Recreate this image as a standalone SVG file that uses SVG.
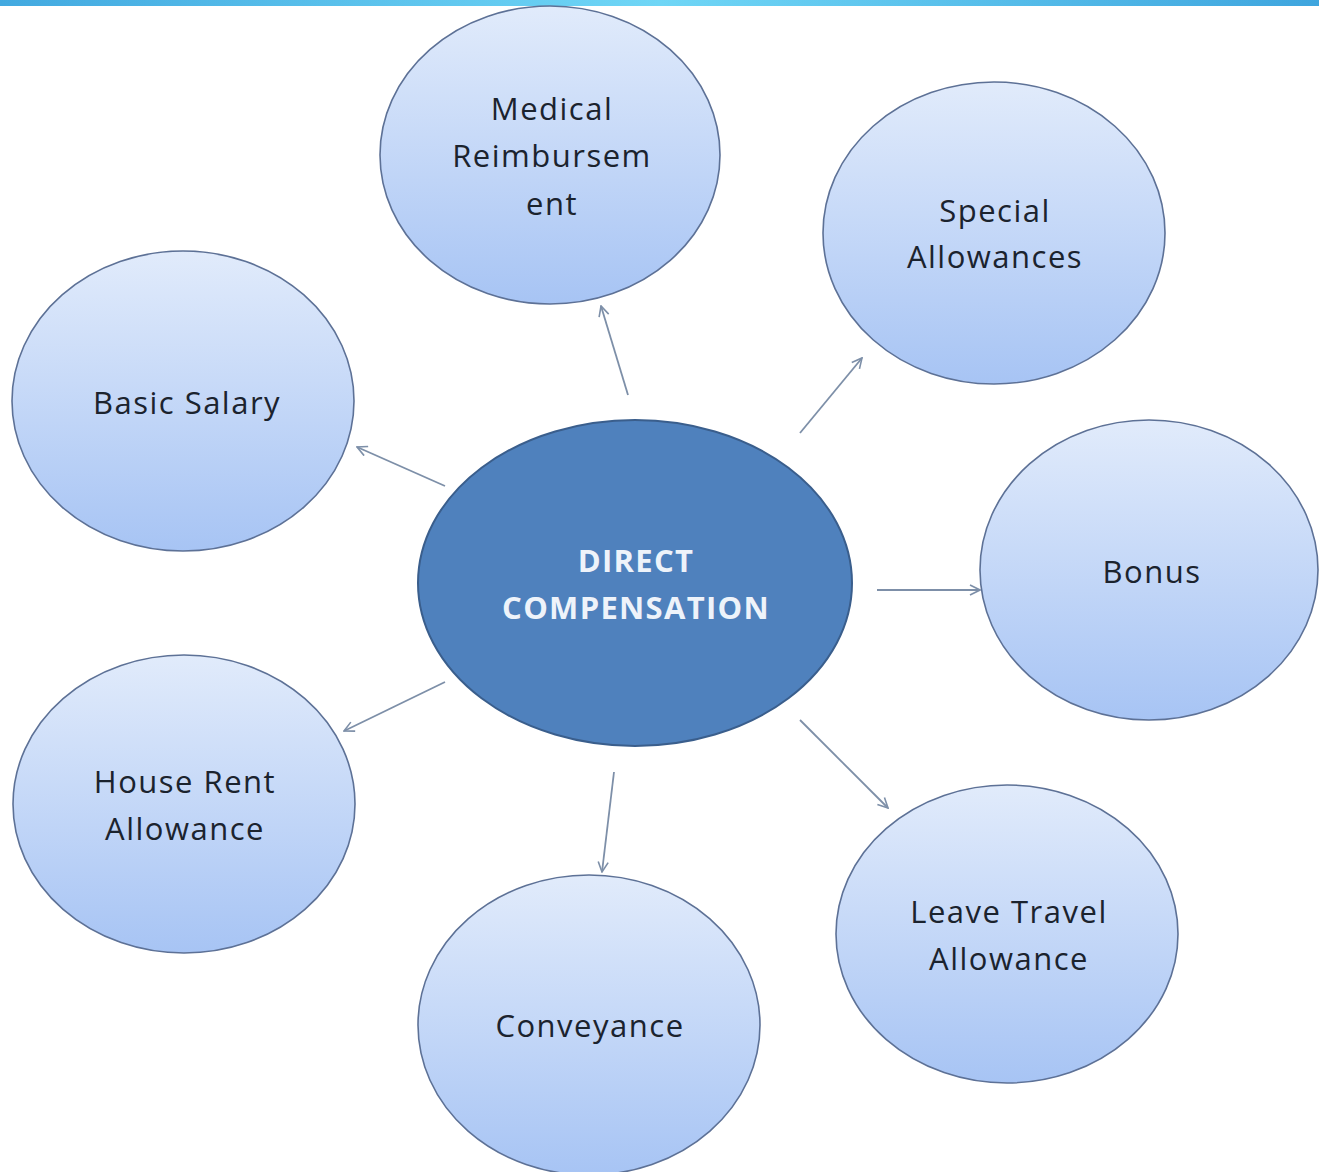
<svg xmlns="http://www.w3.org/2000/svg" width="1319" height="1172" viewBox="0 0 1319 1172">
<defs>
<linearGradient id="bar" x1="0" y1="0" x2="1" y2="0">
<stop offset="0" stop-color="#42a9e0"/><stop offset="0.5" stop-color="#6fd6f6"/><stop offset="1" stop-color="#3ea5de"/>
</linearGradient>
<linearGradient id="bub" x1="0" y1="0" x2="0" y2="1">
<stop offset="0" stop-color="#e1ebfb"/><stop offset="1" stop-color="#a7c4f4"/>
</linearGradient>
<marker id="ah" viewBox="0 0 12 12" refX="11" refY="6" markerWidth="12" markerHeight="12" markerUnits="userSpaceOnUse" orient="auto">
<path d="M1,1 L11,6 L1,11" fill="none" stroke="#7d8fa8" stroke-width="1.6"/>
</marker>
<style>
.b{fill:url(#bub);stroke:#5d7196;stroke-width:1.6}
.t{font-family:"Open Sans","Noto Sans","Liberation Sans",sans-serif;font-size:31px;letter-spacing:1.5px;fill:#1b232e;text-anchor:middle}
.c{font-family:"Open Sans","Noto Sans","Liberation Sans",sans-serif;font-size:31px;letter-spacing:1.3px;font-weight:bold;fill:#eef3fa;text-anchor:middle}
.a{stroke:#7d8fa8;stroke-width:1.8;fill:none;marker-end:url(#ah)}
</style>
</defs>
<rect width="1319" height="1172" fill="#ffffff"/>
<rect x="0" y="0" width="1319" height="6" fill="url(#bar)"/>
<g id="connectors">
<line class="a" x1="628" y1="395" x2="601" y2="306"/>
<line class="a" x1="800" y1="433" x2="862" y2="358"/>
<line class="a" x1="445" y1="486" x2="357" y2="447"/>
<line class="a" x1="877" y1="590" x2="980" y2="590"/>
<line class="a" x1="445" y1="682" x2="344" y2="731"/>
<line class="a" x1="614" y1="772" x2="602" y2="872"/>
<line class="a" x1="800" y1="720" x2="888" y2="808"/>
</g>
<g id="medical"><ellipse class="b" cx="550" cy="155" rx="170" ry="149"/>
<text class="t" x="552" y="120">Medical</text><text class="t" x="552" y="167">Reimbursem</text><text class="t" x="552" y="215">ent</text></g>
<g id="special"><ellipse class="b" cx="994" cy="233" rx="171" ry="151"/>
<text class="t" x="995" y="222">Special</text><text class="t" x="995" y="268">Allowances</text></g>
<g id="basic"><ellipse class="b" cx="183" cy="401" rx="171" ry="150"/>
<text class="t" x="187" y="414">Basic Salary</text></g>
<g id="center"><ellipse cx="635" cy="583" rx="217" ry="163" fill="#4f81bd" stroke="#3a5e8c" stroke-width="2"/>
<text class="c" x="636" y="572">DIRECT</text><text class="c" x="636" y="619">COMPENSATION</text></g>
<g id="bonus"><ellipse class="b" cx="1149" cy="570" rx="169" ry="150"/>
<text class="t" x="1152" y="583">Bonus</text></g>
<g id="hra"><ellipse class="b" cx="184" cy="804" rx="171" ry="149"/>
<text class="t" x="185" y="793">House Rent</text><text class="t" x="185" y="840">Allowance</text></g>
<g id="lta"><ellipse class="b" cx="1007" cy="934" rx="171" ry="149"/>
<text class="t" x="1009" y="923">Leave Travel</text><text class="t" x="1009" y="970">Allowance</text></g>
<g id="conveyance"><ellipse class="b" cx="589" cy="1025" rx="171" ry="150"/>
<text class="t" x="590" y="1037">Conveyance</text></g>
</svg>
